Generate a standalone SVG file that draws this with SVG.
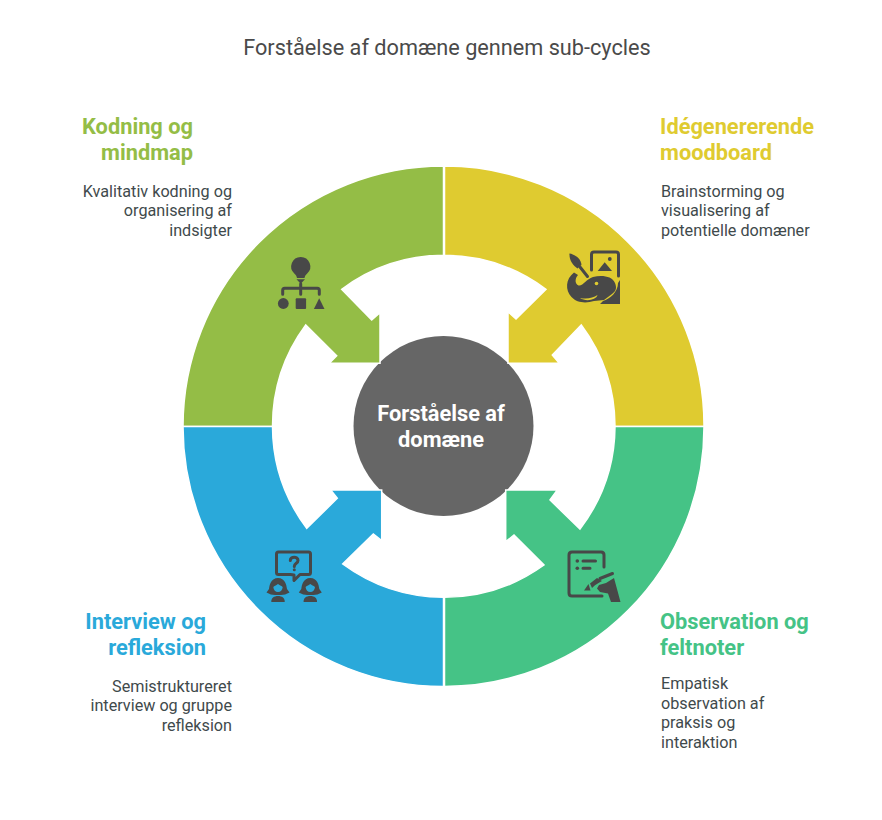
<svg xmlns="http://www.w3.org/2000/svg" width="882" height="820" viewBox="0 0 882 820">
<style>
text{font-family:Roboto,"Liberation Sans",sans-serif}
.t{font-size:21.7px;fill:#4a4a4a}
.h{font-size:21.8px;font-weight:700}
.d{font-size:16.2px;fill:#3f4a4c}
.c{font-size:21.8px;font-weight:700;fill:#fff;text-anchor:middle}
.e{text-anchor:end}
.seg{stroke:#fff;stroke-width:1.5}
.i{fill:#484848}
.l{fill:none;stroke:#484848;stroke-width:3;stroke-linecap:round;stroke-linejoin:round}
</style>
<rect width="882" height="820" fill="#fff"/>
<text class="t" x="447" y="55" text-anchor="middle">Forståelse af domæne gennem sub-cycles</text>
<g id="center"><circle cx="443.500" cy="426" r="90" fill="#666"/><text class="c" x="441" y="421">Forståelse af</text><text class="c" x="441" y="447">domæne</text></g>
<g id="connectors">
<path class="seg" fill="#94bd46" d="M183 426.500A260.500 260.500 0 0 1 443.500 166V255.300A171 171 0 0 0 341.700 289.300L371.700 320 380 312.700V363.300H329.300L336.700 355.700 305.700 325A171 171 0 0 0 272.500 426.500Z"/>
<path class="seg" fill="#dfcb30" d="M444.500 166A259.500 259.500 0 0 1 704 426.500H615A171 171 0 0 0 581.300 325L552.300 355 559.300 363.300H508V311.700L516 319 546 289.300A171 171 0 0 0 444.500 255.300Z"/>
<path class="seg" fill="#2aa9da" d="M183 426.500H272.500A171 171 0 0 0 306.700 528.300L337.300 498.300 330.700 490H381.700V540.700L373.300 534 342.700 564A171 171 0 0 0 443.500 597.300V686.500A260 260 0 0 1 183 426.500Z"/>
<path class="seg" fill="#45c386" d="M704 426.500A259.500 259.500 0 0 1 444.500 686.500V597.300A171 171 0 0 0 544 565L514 535 505.700 541.700V490H557.300L550 500 580 529A171 171 0 0 0 615 426.500Z"/>
</g>
<g id="kodning"><text class="h e" x="193" y="134" fill="#94bd46">Kodning og</text><text class="h e" x="193" y="160" fill="#94bd46">mindmap</text>
<text class="d e" x="232" y="197">Kvalitativ kodning og</text><text class="d e" x="232" y="216">organisering af</text><text class="d e" x="232" y="236">indsigter</text>
<g id="icon-kodning">
<path class="i" d="M300.700 257A9.500 9.500 0 0 1 307.200 273.500C305.300 275 304.800 276.500 304.500 278H297C296.700 276.500 296.200 275 294.300 273.500A9.500 9.500 0 0 1 300.700 257Z"/>
<path class="i" d="M296.500 279.300H305L300.700 283.700Z"/>
<path class="l" d="M282.700 294.300V290.300Q282.700 288.300 284.700 288.300H317.300Q319.300 288.300 319.300 290.300V294.300M300.700 283.700V294.300"/>
<circle class="i" cx="283.300" cy="303.500" r="5.400"/>
<rect class="i" x="295.700" y="298.300" width="10.400" height="10.700" rx="1"/>
<path class="i" d="M319.200 298.300L324.500 309H313.900Z"/>
</g></g>
<g id="moodboard"><text class="h" x="660" y="134" fill="#dfcb30">Idégenererende</text><text class="h" x="660" y="160" fill="#dfcb30">moodboard</text>
<text class="d" x="661" y="197">Brainstorming og</text><text class="d" x="661" y="216">visualisering af</text><text class="d" x="661" y="236">potentielle domæner</text>
<g id="icon-moodboard">
<path class="l" d="M591.500 270V254.500Q591.500 252 594 252H616Q618.500 252 618.500 254.500V276"/>
<path class="i" d="M604.700 262.300L612 271H597.700Z"/>
<circle class="i" cx="609.800" cy="259" r="1.900"/>
<path class="i" d="M569.500 253.500C575.500 254.500 581 259 581.500 265L577.500 268.500C573 266 569 260 569.500 253.500Z"/>
<path class="l" d="M580 267L587.500 276.500" stroke-width="4"/>
<path class="i" d="M574 272.500L578 275C574.500 279 575 284 578.500 285.500C583 286.500 586 279 593 277C602 275 612 276 615 283C617 288 616 291 612 294L604 300 594 301C586 303.500 577 303 571.500 297C565 290 565.500 279 574 272.500Z"/>
<path class="i" d="M620 280V304H600L603 301C610 299 618 292 618 283Z"/>
<circle cx="596.500" cy="283.500" r="1.800" fill="#dfcb30"/>
<path d="M580 298C587 299.500 593 298 597.500 295C596 300 586 302 580 298Z" fill="#dfcb30"/>
</g></g>
<g id="interview"><text class="h e" x="206" y="629" fill="#2aa9da">Interview og</text><text class="h e" x="206" y="655" fill="#2aa9da">refleksion</text>
<text class="d e" x="232" y="692">Semistruktureret</text><text class="d e" x="232" y="711">interview og gruppe</text><text class="d e" x="232" y="731">refleksion</text>
<g id="icon-interview">
<path class="l" d="M290.300 574.500H278.500Q276.500 574.500 276.500 572.500V554Q276.500 552 278.500 552H308.500Q310.500 552 310.500 554V572.500Q310.500 574.500 308.500 574.500H300L294 580.500V575Z"/>
<path class="l" d="M290.300 560.500C290.300 556 298 556 298 560.500C298 563.500 294.300 563 294.300 566.500" stroke-width="2.500"/>
<circle class="i" cx="294.300" cy="569.800" r="1.500"/>
<g id="person-a"><path class="i" d="M278 578C285 578 286.500 585 287 589L289.500 592.500Q285 595 281 595H275Q271 595 266.500 592.500L269 589C269.500 585 271 578 278 578Z"/>
<path d="M273.300 587C275 585.500 276.500 585.300 278 584C279.500 585.300 281 585.500 282.700 587C282.500 590 280.500 592 278 592S273.500 590 273.300 587Z" fill="#2aa9da"/><path class="i" d="M271.300 602C271 598 274 596 278 596S285 598 284.700 602Z"/></g>
<g id="person-b" transform="translate(32.300 0)"><path class="i" d="M278 578C285 578 286.500 585 287 589L289.500 592.500Q285 595 281 595H275Q271 595 266.500 592.500L269 589C269.500 585 271 578 278 578Z"/>
<path d="M273.300 587C275 585.500 276.500 585.300 278 584C279.500 585.300 281 585.500 282.700 587C282.500 590 280.500 592 278 592S273.500 590 273.300 587Z" fill="#2aa9da"/><path class="i" d="M271.300 602C271 598 274 596 278 596S285 598 284.700 602Z"/></g>
</g></g>
<g id="observation"><text class="h" x="660" y="629" fill="#45c386">Observation og</text><text class="h" x="660" y="655" fill="#45c386">feltnoter</text>
<text class="d" x="661" y="689">Empatisk</text><text class="d" x="661" y="709">observation af</text><text class="d" x="661" y="728">praksis og</text><text class="d" x="661" y="748">interaktion</text>
<g id="icon-observation">
<path class="l" d="M604 567V555Q604 552 601 552H572Q569 552 569 555V593Q569 596 572 596H602" stroke-width="3.500"/>
<circle class="i" cx="577.300" cy="561" r="1.800"/><circle class="i" cx="577.300" cy="568.300" r="1.800"/>
<path class="l" d="M583 561H595.500M583 568.300H590" stroke-width="2.500"/>
<path class="l" d="M612.500 573.500L600 578.500" stroke-width="6"/>
<path class="i" d="M597 578L590 583.500 592 588C596 584 600 582 602 581Z"/>
<path class="i" d="M584 590.500L588.500 584 590.500 590.500Z"/>
<path class="i" d="M597 588.500L599 585 606 583 614 578 617 589 620.500 602H611L608 593.500 600 592Z"/>
</g></g>
</svg>
